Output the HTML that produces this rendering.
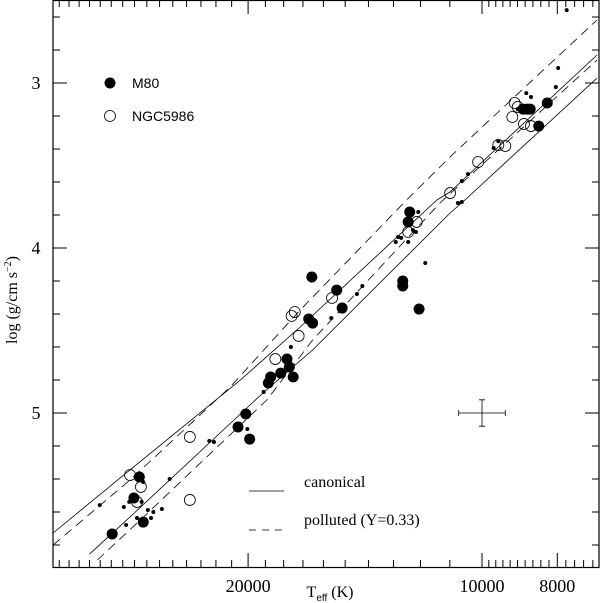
<!DOCTYPE html>
<html><head><meta charset="utf-8"><style>
html,body{margin:0;padding:0;background:#fff;}
svg{display:block;}
</style></head><body>
<svg id="chart" width="600" height="603" viewBox="0 0 600 603" xmlns="http://www.w3.org/2000/svg">
<defs><clipPath id="plotclip"><rect x="53" y="0" width="546" height="567"/></clipPath></defs>
<g id="curves" clip-path="url(#plotclip)"></g>
<g id="points" clip-path="url(#plotclip)"></g>
<g id="axes"></g>
<rect x="53" y="0.5" width="546" height="567" fill="none" stroke="#000" stroke-width="1.2"/>
<g>
<circle cx="110" cy="83" r="5.5" fill="#000"/>
<text x="132" y="88" font-family="Liberation Sans, sans-serif" font-size="14">M80</text>
<circle cx="110" cy="116" r="5.5" fill="none" stroke="#000" stroke-width="0.8"/>
<text x="132" y="121" font-family="Liberation Sans, sans-serif" font-size="14">NGC5986</text>
</g>
<g>
<line x1="249" y1="491" x2="284" y2="491" stroke="#000" stroke-width="0.8"/>
<text x="304" y="487" font-family="Liberation Serif, serif" font-size="16">canonical</text>
<line x1="249" y1="530" x2="284" y2="530" stroke="#000" stroke-width="0.8" stroke-dasharray="7,6"/>
<text x="304" y="525" font-family="Liberation Serif, serif" font-size="16">polluted (Y=0.33)</text>
</g>
<text x="330" y="597" text-anchor="middle" font-family="Liberation Serif, serif" font-size="16">T<tspan font-family="Liberation Sans, sans-serif" font-size="10" dy="4">eff</tspan><tspan dy="-4"> (K)</tspan></text>
<text transform="translate(17,300) rotate(-90)" text-anchor="middle" font-family="Liberation Serif, serif" font-size="16">log (g/cm s<tspan font-size="10" dy="-6">−2</tspan><tspan dy="6">)</tspan></text>
</svg>
<script>
// data (log Teff, log g)
var m80LogT = [4.476,4.441,4.448,4.436,4.314,4.304,4.299,4.275,4.272,4.259,4.251,4.248,4.243,4.223,4.218,4.219,4.187,4.180,4.102,4.102,4.093,4.095,4.081,3.947,3.942,3.938,3.916,3.927];
var m80Logg = [5.733,5.388,5.515,5.661,5.085,5.006,5.158,4.818,4.782,4.758,4.673,4.721,4.782,4.430,4.455,4.176,4.255,4.364,4.200,4.230,3.782,3.842,4.370,3.158,3.158,3.158,3.121,3.261];
var ngcLogT = [4.453,4.439,4.444,4.376,4.376,4.266,4.245,4.241,4.236,4.193,4.095,4.084,4.041,4.005,3.979,3.970,3.961,3.958,3.954,3.946,3.937];
var ngcLogg = [5.376,5.448,5.539,5.145,5.527,4.673,4.412,4.388,4.533,4.303,3.903,3.842,3.667,3.479,3.376,3.382,3.206,3.121,3.145,3.248,3.261];
var dotLogT = [4.492,4.461,4.454,4.458,4.444,4.436,4.438,4.430,4.426,4.423,4.412,4.402,4.351,4.345,4.302,4.281,4.246,4.194,4.073,4.154,4.161,4.111,4.108,4.104,4.095,4.089,4.085,4.082,4.031,4.026,4.026,4.018,3.985,3.979,3.954,3.943,3.937,3.905,3.902,3.891];
var dotLogg = [5.558,5.570,5.539,5.679,5.636,5.418,5.539,5.588,5.636,5.600,5.582,5.400,5.170,5.176,5.097,4.873,4.600,4.424,4.091,4.230,4.279,3.964,3.933,3.939,3.964,3.891,3.903,3.782,3.727,3.721,3.594,3.552,3.394,3.352,3.158,3.061,3.085,3.024,2.909,2.558];
var canonA_LogT = [4.552,4.453,4.311,4.234,4.058,4.041,3.852];
var canonA_Logg = [5.727,5.345,4.800,4.479,3.709,3.660,2.830];
var canonB_LogT = [4.505,4.453,4.282,4.218,4.041,4.022,3.852];
var canonB_Logg = [5.855,5.630,4.879,4.618,3.788,3.709,2.970];
var pollA_LogT = [4.552,4.453,4.324,4.234,4.097,4.041,3.852];
var pollA_Logg = [5.800,5.406,4.842,4.376,3.709,3.448,2.618];
var pollB_LogT = [4.495,4.444,4.277,4.218,4.054,3.852];
var pollB_Logg = [5.891,5.667,4.921,4.558,3.727,2.861];
var errLogT = [4.0]; var errLogg = [5.0]; var errDT = [0.03]; var errDG = [0.08];
var xMajor = [20000,10000,8000];
var xMajorLabels = ["20000","10000","8000"];
var yMajor = [3,4,5];
var yMajorLabels = ["3","4","5"];

var NS = "http://www.w3.org/2000/svg";
function X(lt){ return 482 + (4 - lt) * 777; }
function Y(g){ return 83 + (g - 3) * 165; }
function mk(tag, attrs, parent){ var e = document.createElementNS(NS, tag); for (var k in attrs) e.setAttribute(k, attrs[k]); parent.appendChild(e); return e; }

var curves = document.getElementById('curves');
function drawCurve(lt, lg, dashed, name){
  var d = '';
  for (var i = 0; i < lt.length; i++) d += (i ? 'L' : 'M') + X(lt[i]).toFixed(1) + ',' + Y(lg[i]).toFixed(1);
  var p = mk('path', {d: d, fill: 'none', stroke: '#000', 'stroke-width': 0.8, 'stroke-linejoin': 'round'}, curves);
  if (dashed) p.setAttribute('stroke-dasharray', '9,6');
  
  
}
drawCurve(canonA_LogT, canonA_Logg, false, 'canonical-curve-upper');
drawCurve(canonB_LogT, canonB_Logg, false, 'canonical-curve-lower');
drawCurve(pollA_LogT, pollA_Logg, true, 'polluted-curve-upper');
drawCurve(pollB_LogT, pollB_Logg, true, 'polluted-curve-lower');

var pts = document.getElementById('points');
for (var i = 0; i < dotLogT.length; i++){
  var c = mk('circle', {cx: X(dotLogT[i]), cy: Y(dotLogg[i]), r: 2, fill: '#000'}, pts);
  
  
}
for (var i = 0; i < ngcLogT.length; i++){
  var c = mk('circle', {cx: X(ngcLogT[i]), cy: Y(ngcLogg[i]), r: 5.5, fill: 'none', stroke: '#000', 'stroke-width': 0.8}, pts);
  
  
}
for (var i = 0; i < m80LogT.length; i++){
  var c = mk('circle', {cx: X(m80LogT[i]), cy: Y(m80Logg[i]), r: 5.5, fill: '#000'}, pts);
  
  
}

var axes = document.getElementById('axes');
var ex = X(errLogT[0]), ey = Y(errLogg[0]);
var eb = mk('path', {d: 'M' + X(errLogT[0] + errDT[0]) + ',' + ey + 'H' + X(errLogT[0] - errDT[0]) +
  'M' + ex + ',' + Y(errLogg[0] - errDG[0]) + 'V' + Y(errLogg[0] + errDG[0]) +
  'M' + (X(errLogT[0] + errDT[0])) + ',' + (ey - 3) + 'v6M' + X(errLogT[0] - errDT[0]) + ',' + (ey - 3) + 'v6' +
  'M' + (ex - 3) + ',' + Y(errLogg[0] - errDG[0]) + 'h6M' + (ex - 3) + ',' + Y(errLogg[0] + errDG[0]) + 'h6',
  fill: 'none', stroke: '#000', 'stroke-width': 0.8}, axes);



var tickPath = '';
var T;
for (T = 7200; T < 10000; T += 200){ var x = X(Math.log10(T)); tickPath += 'M' + x + ',567v-7M' + x + ',0v7'; }
for (T = 11000; T <= 36000; T += 1000){ if (T === 20000) continue; var x = X(Math.log10(T)); if (x < 53) continue; tickPath += 'M' + x + ',567v-7M' + x + ',0v7'; }
for (var i = 0; i < xMajor.length; i++){ var x = X(Math.log10(xMajor[i])); tickPath += 'M' + x + ',567v-14M' + x + ',0v14'; }
for (var g = 2.6; g < 5.95; g += 0.2){ var y = Y(g); tickPath += 'M53,' + y + 'h7M599,' + y + 'h-7'; }
for (var i = 0; i < yMajor.length; i++){ var y = Y(yMajor[i]); tickPath += 'M53,' + y + 'h14M599,' + y + 'h-14'; }
var tp = mk('path', {d: tickPath, fill: 'none', stroke: '#000', 'stroke-width': 1}, axes);



for (var i = 0; i < xMajor.length; i++){
  var t = mk('text', {x: X(Math.log10(xMajor[i])), y: 592, 'text-anchor': 'middle', 'font-family': 'Liberation Serif, serif', 'font-size': 18}, axes);
  t.textContent = xMajorLabels[i];
  
  
}
for (var i = 0; i < yMajor.length; i++){
  var t = mk('text', {x: 36, y: Y(yMajor[i]) + 6, 'text-anchor': 'middle', 'font-family': 'Liberation Serif, serif', 'font-size': 18}, axes);
  t.textContent = yMajorLabels[i];
  
  
}
</script>
</body></html>
